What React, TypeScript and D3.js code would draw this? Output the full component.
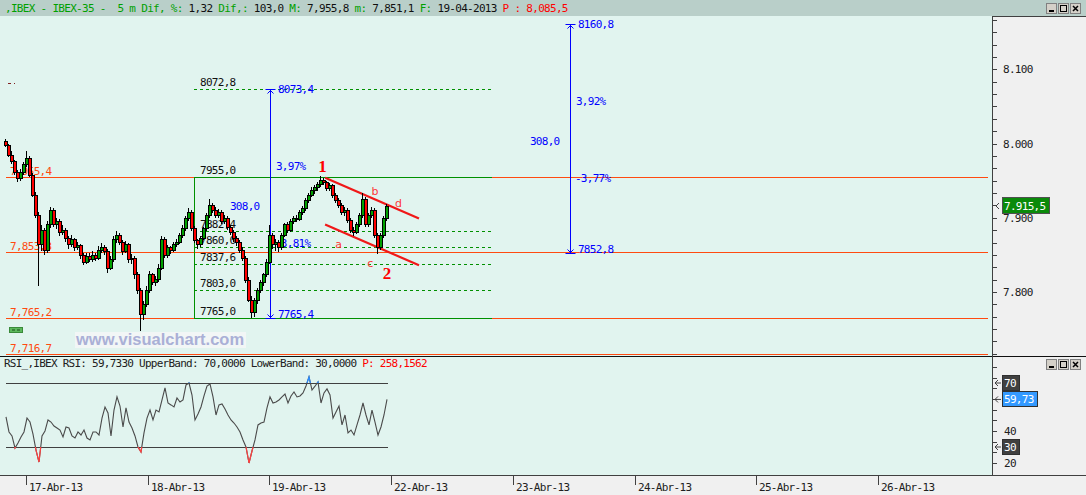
import { useEffect, useRef } from 'react';
import * as d3 from 'd3';

// IBEX-35, 5 min bars: [open, high, low, close]
const candles: number[][] = [
  [8003, 8006, 7995, 7998], [7998, 8000, 7982, 7985], [7985, 7990, 7972, 7976], [7976, 7978, 7958, 7962],
  [7962, 7965, 7948, 7954], [7954, 7966, 7950, 7962], [7962, 7975, 7958, 7972], [7972, 7990, 7968, 7981],
  [7981, 7983, 7955, 7958], [7958, 7960, 7928, 7931], [7931, 7935, 7900, 7904], [7904, 7908, 7808, 7864],
  [7864, 7890, 7855, 7884], [7884, 7886, 7850, 7857], [7857, 7895, 7852, 7891], [7891, 7914, 7886, 7911],
  [7911, 7913, 7887, 7891], [7891, 7900, 7885, 7895], [7895, 7898, 7876, 7881], [7881, 7890, 7877, 7884],
  [7884, 7886, 7868, 7873], [7873, 7876, 7858, 7864], [7864, 7877, 7860, 7871], [7871, 7873, 7855, 7860],
  [7860, 7868, 7856, 7863], [7863, 7865, 7845, 7850], [7850, 7853, 7836, 7841], [7841, 7853, 7838, 7849],
  [7849, 7852, 7840, 7844], [7844, 7855, 7841, 7850], [7850, 7853, 7842, 7846], [7846, 7862, 7843, 7857],
  [7857, 7866, 7853, 7860], [7860, 7863, 7850, 7855], [7855, 7858, 7826, 7833], [7833, 7848, 7830, 7844],
  [7844, 7875, 7841, 7871], [7871, 7882, 7866, 7877], [7877, 7880, 7863, 7868], [7868, 7870, 7850, 7855],
  [7855, 7869, 7852, 7864], [7864, 7866, 7839, 7844], [7844, 7851, 7838, 7846], [7846, 7848, 7818, 7824],
  [7824, 7827, 7797, 7803], [7803, 7806, 7747, 7770], [7770, 7788, 7762, 7784], [7784, 7808, 7780, 7803],
  [7803, 7828, 7799, 7824], [7824, 7826, 7810, 7814], [7814, 7822, 7808, 7817], [7817, 7838, 7813, 7833],
  [7833, 7876, 7830, 7871], [7871, 7874, 7846, 7850], [7850, 7863, 7846, 7860], [7860, 7862, 7851, 7857],
  [7857, 7868, 7854, 7864], [7864, 7872, 7860, 7868], [7868, 7880, 7865, 7877], [7877, 7890, 7873, 7886],
  [7886, 7903, 7882, 7900], [7900, 7913, 7896, 7908], [7908, 7910, 7882, 7886], [7886, 7889, 7866, 7870],
  [7870, 7872, 7858, 7864], [7864, 7876, 7860, 7873], [7873, 7888, 7870, 7886], [7886, 7906, 7882, 7904],
  [7904, 7925, 7900, 7917], [7917, 7920, 7906, 7911], [7911, 7914, 7900, 7904], [7904, 7912, 7900, 7908],
  [7908, 7910, 7891, 7895], [7895, 7904, 7892, 7900], [7900, 7903, 7883, 7887], [7887, 7890, 7877, 7881],
  [7881, 7884, 7868, 7873], [7873, 7876, 7862, 7867], [7867, 7870, 7852, 7857], [7857, 7860, 7842, 7846],
  [7846, 7849, 7812, 7816], [7816, 7820, 7786, 7789], [7789, 7795, 7765.4, 7773], [7773, 7792, 7766, 7789],
  [7789, 7806, 7784, 7803], [7803, 7816, 7798, 7814], [7814, 7826, 7808, 7824], [7824, 7845, 7820, 7841],
  [7841, 7890, 7838, 7877], [7877, 7880, 7858, 7864], [7864, 7872, 7855, 7868], [7868, 7870, 7854, 7860],
  [7860, 7880, 7857, 7877], [7877, 7893, 7874, 7891], [7891, 7894, 7880, 7884], [7884, 7898, 7881, 7895],
  [7895, 7903, 7891, 7900], [7900, 7904, 7894, 7898], [7898, 7911, 7895, 7908], [7908, 7916, 7904, 7913],
  [7913, 7927, 7909, 7924], [7924, 7934, 7920, 7931], [7931, 7942, 7928, 7938], [7938, 7944, 7932, 7941],
  [7941, 7948, 7936, 7945], [7945, 7955.8, 7942, 7951], [7951, 7954, 7944, 7948], [7948, 7950, 7936, 7940],
  [7940, 7947, 7936, 7944], [7944, 7946, 7927, 7931], [7931, 7934, 7920, 7924], [7924, 7927, 7913, 7917],
  [7917, 7920, 7904, 7908], [7908, 7914, 7903, 7911], [7911, 7913, 7893, 7897], [7897, 7900, 7880, 7884],
  [7884, 7888, 7876, 7881], [7881, 7894, 7878, 7891], [7891, 7906, 7888, 7904], [7904, 7934, 7900, 7925],
  [7925, 7928, 7888, 7891], [7891, 7906, 7887, 7904], [7904, 7915, 7900, 7911], [7911, 7913, 7873, 7877],
  [7877, 7880, 7851.1, 7860], [7860, 7880, 7856, 7877], [7877, 7903, 7873, 7900], [7900, 7918, 7896, 7915.5],
];

// RSI per bar
const rsi: number[] = [
  48.8, 39.4, 36.9, 29.4, 32.5, 36.3, 39.4, 48.1, 45.6, 38.1,
  28.1, 20.6, 36.9, 40.0, 46.9, 45.6, 43.1, 41.9, 40.6, 36.3,
  42.5, 41.9, 36.9, 35.6, 39.4, 37.5, 40.6, 35.6, 34.4, 39.4,
  39.4, 37.5, 48.1, 55.0, 51.3, 36.9, 53.1, 61.3, 55.6, 42.5,
  54.4, 45.6, 41.9, 36.9, 30.0, 26.9, 38.8, 48.1, 53.1, 46.9,
  53.1, 51.9, 59.4, 66.9, 57.5, 56.3, 55.0, 60.6, 58.1, 59.4,
  68.8, 70.0, 62.5, 46.9, 50.6, 55.0, 61.9, 68.1, 69.4, 61.3,
  50.0, 56.3, 56.9, 53.8, 50.0, 46.9, 45.0, 42.5, 39.4, 34.4,
  30.0, 20.0, 27.5, 34.4, 43.8, 45.0, 45.6, 54.4, 61.3, 57.5,
  58.1, 59.4, 61.3, 63.1, 57.5, 61.9, 64.4, 61.3, 61.9, 63.8,
  68.1, 73.8, 65.6, 68.0, 70.6, 57.5, 63.8, 66.3, 62.5, 48.1,
  51.9, 55.6, 43.8, 50.0, 38.8, 40.6, 37.5, 43.8, 50.0, 57.5,
  50.0, 43.8, 53.1, 45.6, 37.5, 42.5, 50.0, 59.733,
];

const dayLabels = ['17-Abr-13', '18-Abr-13', '19-Abr-13', '22-Abr-13', '23-Abr-13', '24-Abr-13', '25-Abr-13', '26-Abr-13'];
const priceTicks = [7800, 7900, 8000, 8100];
const rsiTicks = [20, 40];
const rsiBands = [70, 30];

// header values
const difPct = 1.32;
const dif = 103.0;
const dayMax = 7955.8;
const dayMin = 7851.1;
const dateLabel = '19-04-2013';
const pValue = 8085.5;
const lastPrice = 7915.5;
const rsiP = 258.1562;

// horizontal lines
const hLevels = [7955.4, 7853.3, 7765.2, 7716.7];

// retracement box
const fibLevels = [7955.0, 7882.4, 7860.0, 7837.6, 7803.0, 7765.0];
const fibExtension = 8072.8;
const fibBars = [63, 162.3];

// projections
const projBars = [88.3, 188.3];
const projLow = [7765.4, 7852.8];
const projHigh = [8073.4, 8160.8];

// channel
const channelBars = [106.7, 138];
const channelUpper = [7954, 7899];
const channelLower = [7891, 7836];

// wave labels
const waveText = ['1', '2', 'a', 'b', 'c', 'd'];
const waveBars = [105.8, 127.3, 111.2, 123.3, 121.8, 131.2];
const wavePrices = [7961, 7817, 7859, 7931, 7834, 7915];

const W = 1086;
const H = 495;
const AXIS_X = 992;
const MAIN_TOP = 16;
const MAIN_BOTTOM = 356;
const RSI_TOP = 357;
const RSI_BOTTOM = 475;
const MONO = "'DejaVu Sans Mono', monospace";
const BG = '#e1f4ef';
const ORANGE = '#ff4a10';
const GREEN = '#009000';
const BLUE = '#0000ff';

const dec = (v: number, d = 1) => v.toFixed(d).replace('.', ',');
const grouped = (v: number) => d3.format(',.1f')(v).replace('.', ',');
const es = d3.formatLocale({ decimal: ',', thousands: '.', grouping: [3], currency: ['', ''] });

const App = () => {
  const svgRef = useRef<SVGSVGElement | null>(null);

  useEffect(() => {
    if (!svgRef.current) return;
    const svg = d3.select(svgRef.current);
    svg.selectAll('*').remove();

    const x = d3.scaleLinear().domain([0, candles.length - 1]).range([5, 386]);
    const y = d3.scaleLinear().domain([7800, 8100]).range([292, 69.3]);
    const yRsi = d3.scaleLinear().domain([20, 70]).range([463, 383]);
    const xDay = d3.scaleLinear().domain([0, dayLabels.length - 1]).range([26, 878]);

    const text = (g: any, px: number, py: number, s: string, fill: string, size = 11) =>
      g.append('text')
        .attr('x', px)
        .attr('y', py)
        .attr('fill', fill)
        .attr('font-family', MONO)
        .attr('font-size', size)
        .attr('letter-spacing', -0.7)
        .text(s);

    // backgrounds
    svg.append('rect').attr('width', W).attr('height', H).attr('fill', '#f0f0f0');
    svg.append('rect').attr('width', W).attr('height', MAIN_TOP).attr('fill', '#b9cfc9');
    svg.append('rect').attr('y', MAIN_TOP).attr('width', AXIS_X).attr('height', MAIN_BOTTOM - MAIN_TOP).attr('fill', BG);
    svg.append('rect').attr('y', RSI_TOP).attr('width', AXIS_X).attr('height', RSI_BOTTOM - RSI_TOP).attr('fill', BG);

    const frame = svg.append('g').attr('shape-rendering', 'crispEdges').attr('stroke', '#404040');
    frame.append('line').attr('x1', 0).attr('x2', W).attr('y1', MAIN_BOTTOM + 0.5).attr('y2', MAIN_BOTTOM + 0.5).attr('stroke', '#101010');
    frame.append('line').attr('x1', AXIS_X + 0.5).attr('x2', AXIS_X + 0.5).attr('y1', MAIN_TOP).attr('y2', RSI_BOTTOM);
    frame.append('line').attr('x1', AXIS_X).attr('x2', W).attr('y1', MAIN_TOP + 0.5).attr('y2', MAIN_TOP + 0.5);
    frame.append('line').attr('x1', 0).attr('x2', W).attr('y1', RSI_BOTTOM + 0.5).attr('y2', RSI_BOTTOM + 0.5);

    // header
    const head = svg.append('text')
      .attr('x', 5)
      .attr('y', 12)
      .attr('font-family', MONO)
      .attr('font-size', 11)
      .attr('letter-spacing', -0.7)
      .style('white-space', 'pre');
    const headParts: [string, string][] = [
      [',IBEX - IBEX-35 -  5 m Dif, %:', '#00a000'],
      [` ${dec(difPct, 2)} `, '#101010'],
      ['Dif,:', '#00a000'],
      [` ${dec(dif)} `, '#101010'],
      ['M:', '#00a000'],
      [` ${grouped(dayMax)} `, '#101010'],
      ['m:', '#00a000'],
      [` ${grouped(dayMin)} `, '#101010'],
      ['F:', '#00a000'],
      [` ${dateLabel} `, '#101010'],
      [`P : ${grouped(pValue)}`, '#ff0000'],
    ];
    headParts.forEach(([s, c]) => head.append('tspan').attr('fill', c).text(s));

    // window buttons
    const buttons = (top: number) => {
      [1046, 1058, 1070].forEach((bx, k) => {
        const b = svg.append('g').attr('shape-rendering', 'crispEdges');
        b.append('rect').attr('x', bx + 0.5).attr('y', top + 0.5).attr('width', 10).attr('height', 10)
          .attr('fill', '#d4d0c8').attr('stroke', '#808080');
        if (k === 0) b.append('rect').attr('x', bx + 3).attr('y', top + 7).attr('width', 5).attr('height', 2).attr('fill', '#000');
        if (k === 1) b.append('rect').attr('x', bx + 2.5).attr('y', top + 2.5).attr('width', 6).attr('height', 6)
          .attr('fill', 'none').attr('stroke', '#000');
        if (k === 2) b.append('path').attr('d', `M${bx + 3},${top + 3}L${bx + 8},${top + 8}M${bx + 8},${top + 3}L${bx + 3},${top + 8}`)
          .attr('stroke', '#000').attr('stroke-width', 1.5).attr('shape-rendering', 'auto');
      });
    };
    buttons(3);
    buttons(359);

    const main = svg.append('g');

    // fib labels (behind candles)
    const fx0 = x(fibBars[0]);
    const fx1 = x(fibBars[1]);
    [...fibLevels, fibExtension].forEach((lv) => text(main, fx0 + 6, y(lv) - 3, dec(lv), '#101010'));

    // horizontal orange levels
    hLevels.forEach((lv) => {
      const ly = Math.round(y(lv)) + 0.5;
      main.append('line').attr('x1', 6).attr('x2', 988).attr('y1', ly).attr('y2', ly)
        .attr('stroke', ORANGE).attr('stroke-width', 1.2);
      text(main, 10, ly - 2.5, grouped(lv), ORANGE);
    });

    // retracement box
    const fib = main.append('g').attr('shape-rendering', 'crispEdges');
    fibLevels.forEach((lv, k) => {
      const ly = Math.round(y(lv)) + 0.5;
      const solid = k === 0 || k === fibLevels.length - 1;
      fib.append('line').attr('x1', fx0).attr('x2', fx1).attr('y1', ly).attr('y2', ly)
        .attr('stroke', GREEN).attr('stroke-dasharray', solid ? null : '3,3');
    });
    const ey = Math.round(y(fibExtension)) + 0.5;
    fib.append('line').attr('x1', fx0).attr('x2', fx1).attr('y1', ey).attr('y2', ey)
      .attr('stroke', GREEN).attr('stroke-dasharray', '3,3');
    fib.append('line').attr('x1', Math.round(fx0) + 0.5).attr('x2', Math.round(fx0) + 0.5)
      .attr('y1', y(fibLevels[0])).attr('y2', y(fibLevels[fibLevels.length - 1]) + 1).attr('stroke', GREEN);

    // projection lines
    projBars.forEach((b, k) => {
      const px = Math.round(x(b)) + 0.5;
      const yt = Math.round(y(projHigh[k])) + 0.5;
      const yb = Math.round(y(projLow[k])) + 0.5;
      main.append('line').attr('x1', px).attr('x2', px).attr('y1', yt).attr('y2', yb).attr('stroke', BLUE);
      main.append('line').attr('x1', px - 5).attr('x2', px + 5).attr('y1', yt).attr('y2', yt).attr('stroke', BLUE);
      main.append('line').attr('x1', px - 5).attr('x2', px + 5).attr('y1', yb).attr('y2', yb).attr('stroke', BLUE);
      main.append('path').attr('d', `M${px - 3},${yt + 4}L${px},${yt + 1}L${px + 3},${yt + 4}`).attr('fill', 'none').attr('stroke', BLUE);
      main.append('path').attr('d', `M${px - 3},${yb - 4}L${px},${yb - 1}L${px + 3},${yb - 4}`).attr('fill', 'none').attr('stroke', BLUE);
    });

    // candles
    const cg = svg.append('g').attr('shape-rendering', 'crispEdges');
    candles.forEach(([o, h, l, c], i) => {
      const cx = Math.round(x(i));
      cg.append('line').attr('x1', cx + 0.5).attr('x2', cx + 0.5)
        .attr('y1', y(h)).attr('y2', y(l)).attr('stroke', '#000');
      const top = Math.round(y(Math.max(o, c)));
      const bot = Math.round(y(Math.min(o, c)));
      cg.append('rect')
        .attr('x', cx - 0.5)
        .attr('y', top + 0.5)
        .attr('width', 3)
        .attr('height', Math.max(1, bot - top))
        .attr('fill', c >= o ? '#00a000' : '#ff0000')
        .attr('stroke', '#000');
    });

    // projection labels
    projBars.forEach((b, k) => {
      const px = x(b);
      const yt = y(projHigh[k]);
      const yb = y(projLow[k]);
      const mid = (yt + yb) / 2;
      const range = projHigh[k] - projLow[k];
      text(main, px + 8, yt + 4, dec(projHigh[k]), BLUE);
      text(main, px + 8, yb + 0, dec(projLow[k]), BLUE);
      text(main, px + 6, mid - 33, `${dec((range / projLow[k]) * 100, 2)}%`, BLUE);
      text(main, px + 5, mid + 44, `-${dec((range / projHigh[k]) * 100, 2)}%`, BLUE);
      text(main, px - 40, mid + 7, dec(range), BLUE);
    });

    // channel lines
    [channelUpper, channelLower].forEach((ch) => {
      main.append('line')
        .attr('x1', x(channelBars[0])).attr('y1', y(ch[0]))
        .attr('x2', x(channelBars[1])).attr('y2', y(ch[1]))
        .attr('stroke', '#f01818').attr('stroke-width', 2.2);
    });

    // wave labels
    waveText.forEach((t, k) => {
      const big = k < 2;
      main.append('text')
        .attr('x', x(waveBars[k]))
        .attr('y', y(wavePrices[k]))
        .attr('text-anchor', 'middle')
        .attr('font-family', big ? "'Liberation Serif', serif" : "'DejaVu Sans', sans-serif")
        .attr('font-weight', big ? 'bold' : 'normal')
        .attr('font-size', big ? 17 : 11)
        .attr('fill', big ? '#ff0000' : '#ff3838')
        .text(t);
    });

    // small marks at left
    main.append('rect').attr('x', 8).attr('y', 83).attr('width', 3).attr('height', 1).attr('fill', '#802020');
    main.append('rect').attr('x', 14).attr('y', 83).attr('width', 1).attr('height', 1).attr('fill', '#802020');
    main.append('rect').attr('x', 9.5).attr('y', 327.5).attr('width', 13).attr('height', 5)
      .attr('fill', '#5cb85c').attr('stroke', '#3a8a3a');
    main.append('line').attr('x1', 12).attr('x2', 20).attr('y1', 330).attr('y2', 330)
      .attr('stroke', '#1a4a1a').attr('stroke-dasharray', '3,2');

    // watermark
    main.append('rect').attr('x', 75).attr('y', 332).attr('width', 171).attr('height', 16).attr('fill', '#f2f6f6');
    main.append('text').attr('x', 76).attr('y', 345)
      .attr('font-family', "'Liberation Sans', Arial, sans-serif").attr('font-weight', 'bold')
      .attr('font-size', 16.5).attr('fill', '#aab0d6').text('www.visualchart.com');

    // price axis
    const ax = svg.append('g').attr('shape-rendering', 'crispEdges');
    d3.range(7700, 8200, 100 / 6).forEach((v) => {
      const ty = Math.round(y(v)) + 0.5;
      if (ty < MAIN_TOP + 2 || ty > MAIN_BOTTOM - 1) return;
      ax.append('line').attr('x1', AXIS_X).attr('x2', AXIS_X + 5).attr('y1', ty).attr('y2', ty).attr('stroke', '#404040');
    });
    priceTicks.forEach((v) => text(ax, AXIS_X + 11, y(v) + 4, es.format(',')(v), '#202020'));

    // last price box
    const ly = y(lastPrice);
    ax.append('path').attr('d', `M${AXIS_X + 7},${ly - 3}L${AXIS_X + 4},${ly}L${AXIS_X + 7},${ly + 3}`).attr('fill', 'none').attr('stroke', '#404040');
    ax.append('rect').attr('x', AXIS_X + 10.5).attr('y', ly - 8.5).attr('width', 47).attr('height', 16)
      .attr('fill', '#0a8a0a').attr('stroke', '#505050');
    text(ax, AXIS_X + 12, ly + 4, es.format(',.1f')(lastPrice), '#ffffff');

    // RSI panel
    const rg = svg.append('g');
    const rsiHead = rg.append('text')
      .attr('x', 4)
      .attr('y', 367)
      .attr('font-family', MONO)
      .attr('font-size', 11)
      .attr('letter-spacing', -0.75)
      .style('white-space', 'pre');
    rsiHead.append('tspan').attr('fill', '#202020')
      .text(`RSI_,IBEX RSI: ${dec(rsi[rsi.length - 1], 4)} UpperBand: ${dec(rsiBands[0], 4)} LowerBand: ${dec(rsiBands[1], 4)} `);
    rsiHead.append('tspan').attr('fill', '#ff0000').text(`P: ${dec(rsiP, 4)}`);

    rsiBands.forEach((b) => {
      const by = Math.round(yRsi(b)) + 0.5;
      rg.append('line').attr('x1', x(0) + 1).attr('x2', x(candles.length - 1) + 2).attr('y1', by).attr('y2', by)
        .attr('stroke', '#404040').attr('shape-rendering', 'crispEdges');
    });

    const defs = svg.append('defs');
    defs.append('clipPath').attr('id', 'rsi-low').append('rect')
      .attr('x', 0).attr('y', yRsi(30)).attr('width', AXIS_X).attr('height', RSI_BOTTOM - yRsi(30));
    defs.append('clipPath').attr('id', 'rsi-high').append('rect')
      .attr('x', 0).attr('y', RSI_TOP).attr('width', AXIS_X).attr('height', yRsi(70) - RSI_TOP);

    const rsiLine = d3.line<number>().x((_, i) => x(i) + 1).y((v) => yRsi(v));
    rg.append('path').attr('d', rsiLine(rsi)).attr('fill', 'none').attr('stroke', '#4a4a4a').attr('stroke-width', 1.1);
    rg.append('path').attr('d', rsiLine(rsi)).attr('fill', 'none').attr('stroke', '#ff4040').attr('stroke-width', 1.2)
      .attr('clip-path', 'url(#rsi-low)');
    rg.append('path').attr('d', rsiLine(rsi)).attr('fill', 'none').attr('stroke', '#2a8cff').attr('stroke-width', 1.2)
      .attr('clip-path', 'url(#rsi-high)');

    // RSI axis
    const rax = svg.append('g').attr('shape-rendering', 'crispEdges');
    d3.range(0, 100, 20 / 3).forEach((v) => {
      const ty = Math.round(yRsi(v)) + 0.5;
      if (ty < RSI_TOP + 2 || ty > RSI_BOTTOM - 1) return;
      rax.append('line').attr('x1', AXIS_X).attr('x2', AXIS_X + 5).attr('y1', ty).attr('y2', ty).attr('stroke', '#404040');
    });
    rsiTicks.forEach((v) => text(rax, AXIS_X + 12, yRsi(v) + 4, String(v), '#202020'));
    const tag = (v: number, label: string, fill: string, w: number) => {
      const ty = yRsi(v);
      rax.append('path').attr('d', `M${AXIS_X + 6},${ty - 3}L${AXIS_X + 3},${ty}L${AXIS_X + 6},${ty + 3}M${AXIS_X + 3},${ty}H${AXIS_X + 9}`)
        .attr('fill', 'none').attr('stroke', '#404040').attr('shape-rendering', 'auto');
      rax.append('rect').attr('x', AXIS_X + 10.5).attr('y', ty - 7.5).attr('width', w).attr('height', 15)
        .attr('fill', fill).attr('stroke', '#303030');
      text(rax, AXIS_X + 12, ty + 4, label, '#ffffff');
    };
    tag(rsiBands[0], String(rsiBands[0]), '#404040', 17);
    tag(rsi[rsi.length - 1], dec(rsi[rsi.length - 1], 2), '#3399ff', 35);
    tag(rsiBands[1], String(rsiBands[1]), '#404040', 17);

    // time axis
    const tx = svg.append('g').attr('shape-rendering', 'crispEdges');
    dayLabels.forEach((d, k) => {
      const dx = Math.round(xDay(k)) + 0.5;
      tx.append('line').attr('x1', dx).attr('x2', dx).attr('y1', RSI_BOTTOM + 1).attr('y2', RSI_BOTTOM + 10).attr('stroke', '#404040');
      text(tx, dx + 2.5, 491, d, '#202020');
    });
  }, []);

  return (
    <svg
      ref={svgRef}
      width={W}
      height={H}
      style={{ position: 'absolute', left: 0, top: 0, display: 'block' }}
    />
  );
};

export default App;
